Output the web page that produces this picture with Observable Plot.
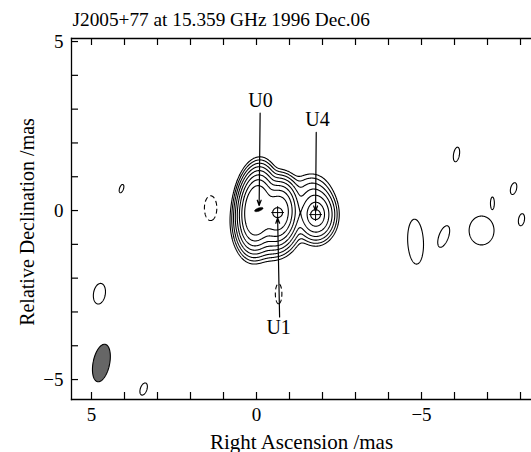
<!DOCTYPE html>
<html><head><meta charset="utf-8">
<script src="https://cdn.jsdelivr.net/npm/d3@7"></script>
<script src="https://cdn.jsdelivr.net/npm/@observablehq/plot@0.6"></script>
<style>body{margin:0;background:#fff} svg{display:block}</style>
</head><body><div id="chart"></div>
<script>
// ---- texts ----
const titleText = "J2005+77 at 15.359 GHz 1996 Dec.06";
const xLabel = "Right Ascension /mas";
const yLabel = "Relative Declination /mas";
// ---- axes ----
const xDomain = [5.606, -8.333];
const yDomain = [-5.59, 5.09];
const xTickLabels = [5, 0, -5];
const yTickLabels = [5, 0, -5];
const xTicks = [5, 4, 3, 2, 1, 0, -1, -2, -3, -4, -5, -6, -7, -8];
const yTicks = [5, 4, 3, 2, 1, 0, -1, -2, -3, -4, -5];
// ---- contour levels (fraction of peak) ----
const levels = [0.0022, 0.0044, 0.0088, 0.0176, 0.035, 0.07, 0.14, 0.28];
const negLevels = [0.0022];
// ---- brightness components: RA, Dec (mas), amplitude, sigma major/minor (mas), PA (deg) ----
const coreComponents = [
  {ra: 0.0, dec: 0.02, amp: 1.0, maj: 0.45, min: 0.22, pa: -5},
  {ra: -0.66, dec: -0.06, amp: 0.6, maj: 0.38, min: 0.24, pa: -5},
  {ra: -0.35, dec: -0.45, amp: 0.05, maj: 0.4, min: 0.4, pa: 0},
  {ra: -1.8, dec: -0.12, amp: 0.12, maj: 0.33, min: 0.25, pa: 0},
  {ra: -1.65, dec: 0.55, amp: 0.01, maj: 0.3, min: 0.3, pa: 0}
];
const noiseBlobs = [
  {ra: 4.09, dec: 0.65, amp: 0.0036, maj: 0.13, min: 0.06, pa: -20},
  {ra: 4.76, dec: -2.46, amp: 0.0036, maj: 0.31, min: 0.18, pa: -10},
  {ra: 3.42, dec: -5.28, amp: 0.0036, maj: 0.19, min: 0.10, pa: -20},
  {ra: -6.06, dec: 1.66, amp: 0.0036, maj: 0.22, min: 0.09, pa: -10},
  {ra: -7.79, dec: 0.65, amp: 0.0036, maj: 0.18, min: 0.09, pa: -15},
  {ra: -7.15, dec: 0.24, amp: 0.0036, maj: 0.15, min: 0.05, pa: 0},
  {ra: -8.03, dec: -0.27, amp: 0.0036, maj: 0.18, min: 0.09, pa: -10},
  {ra: -4.82, dec: -0.92, amp: 0.0036, maj: 0.67, min: 0.24, pa: 3},
  {ra: -5.67, dec: -0.77, amp: 0.0036, maj: 0.33, min: 0.14, pa: -20},
  {ra: -6.82, dec: -0.59, amp: 0.0036, maj: 0.43, min: 0.38, pa: 0},
  {ra: 1.39, dec: 0.07, amp: -0.0036, maj: 0.37, min: 0.19, pa: 0},
  {ra: -0.67, dec: -2.46, amp: -0.0036, maj: 0.30, min: 0.10, pa: 0}
];
// ---- restoring beam (FWHM, mas) ----
const beam = {ra: 4.70, dec: -4.51, amp: 1, maj: 1.13 / 2.3548, min: 0.50 / 2.3548, pa: -12};
// ---- model components & labels ----
const compNames = ["U0", "U1", "U4"];
const compRA = [-0.07, -0.64, -1.79];
const compDec = [0.03, -0.06, -0.12];
const labelRA = [-0.12, -0.67, -1.85];
const labelDec = [3.24, -3.46, 2.70];
const arrowRA1 = [-0.11, -0.70, -1.81];
const arrowDec1 = [2.88, -3.15, 2.31];
const arrowRA2 = [-0.08, -0.64, -1.79];
const arrowDec2 = [0.15, -0.22, -0.02];

// ---- helpers ----
function gauss(c, x, y) {
  const t = c.pa * Math.PI / 180;
  const dx = x - c.ra, dy = y - c.dec;
  const u = dx * Math.sin(t) + dy * Math.cos(t);
  const v = dx * Math.cos(t) - dy * Math.sin(t);
  return c.amp * Math.exp(-0.5 * (u * u / (c.maj * c.maj) + v * v / (c.min * c.min)));
}
const allComps = coreComponents.concat(noiseBlobs);
function brightness(x, y) {
  let s = 0;
  for (const c of allComps) s += gauss(c, x, y);
  return s;
}
const fmt = d => d < 0 ? "\u2212" + (-d) : String(d);
const comps = compNames.map((n, i) => ({n, ra: compRA[i], dec: compDec[i], lra: labelRA[i], ldec: labelDec[i],
  a1: arrowRA1[i], d1: arrowDec1[i], a2: arrowRA2[i], d2: arrowDec2[i]}));
const ellipseSymbol = {draw(ctx) {
  const a = 4.5, b = 1.6, t = -20 * Math.PI / 180;
  for (let i = 0; i <= 24; i++) {
    const p = i / 24 * 2 * Math.PI;
    const x = a * Math.cos(p) * Math.cos(t) - b * Math.sin(p) * Math.sin(t);
    const y = a * Math.cos(p) * Math.sin(t) + b * Math.sin(p) * Math.cos(t);
    i ? ctx.lineTo(x, y) : ctx.moveTo(x, y);
  }
  ctx.closePath();
}};

const W = 531, H = 452, mL = 71, mR = 0, mT = 38, mB = 53;
const fw = W - mL - mR, fh = H - mT - mB;
const serif = "'Liberation Serif', 'Times New Roman', 'DejaVu Serif', serif";
const ext = {x1: xDomain[0], x2: xDomain[1], y1: yDomain[1], y2: yDomain[0], pixelSize: 0.5};

const chart = Plot.plot({
  width: W, height: H,
  marginLeft: mL, marginRight: mR, marginTop: mT, marginBottom: mB,
  x: {domain: xDomain, axis: null},
  y: {domain: yDomain, axis: null},
  style: {fontFamily: serif, background: "white", color: "black"},
  marks: [
    Plot.contour({value: brightness, ...ext, thresholds: levels, stroke: "black", strokeWidth: 1.1, fill: "none"}),
    Plot.contour({value: (x, y) => -brightness(x, y), ...ext, thresholds: negLevels, stroke: "black", strokeWidth: 1.1, strokeDasharray: "5,3", fill: "none"}),
    Plot.contour({value: (x, y) => gauss(beam, x, y), ...ext, thresholds: [0.5], stroke: "black", strokeWidth: 1.1, fill: "#666"}),
    // component markers
    Plot.dot(comps.filter(d => d.n !== "U0"), {x: "ra", y: "dec", r: 5, stroke: "black", strokeWidth: 1.1, fill: "none"}),
    Plot.dot(comps.filter(d => d.n !== "U0"), {x: "ra", y: "dec", r: 4.2, symbol: "plus", stroke: "black", strokeWidth: 1}),
    Plot.dot(comps.filter(d => d.n === "U0"), {x: "ra", y: "dec", symbol: ellipseSymbol, fill: "black", stroke: "black", strokeWidth: 0.5}),
    // arrows & labels
    Plot.arrow(comps, {x1: "a1", y1: "d1", x2: "a2", y2: "d2", stroke: "black", strokeWidth: 1.2, headLength: 7, headAngle: 40}),
    Plot.text(comps, {x: "lra", y: "ldec", text: "n", fontSize: 20, lineAnchor: "middle"}),
    // frame
    Plot.frame({anchor: "left", strokeWidth: 1.3}),
    Plot.frame({anchor: "top", strokeWidth: 1.3}),
    Plot.frame({anchor: "bottom", strokeWidth: 1.3}),
    // inward ticks
    Plot.tickX(xTicks, {x: d => d, insetTop: fh - 7, strokeWidth: 1.2}),
    Plot.tickX(xTicks, {x: d => d, insetBottom: fh - 7, strokeWidth: 1.2}),
    Plot.tickY(yTicks, {y: d => d, insetRight: fw - 7, strokeWidth: 1.2}),
    // tick labels
    Plot.text(xTickLabels, {x: d => d, frameAnchor: "bottom", dy: 21, lineAnchor: "bottom", text: d => fmt(d), fontSize: 19}),
    Plot.text(yTickLabels, {y: d => d, frameAnchor: "left", dx: -8, textAnchor: "end", lineAnchor: "middle", text: d => fmt(d), fontSize: 19}),
    // titles
    Plot.text([titleText], {frameAnchor: "top-left", dx: 1, dy: -13, textAnchor: "start", lineAnchor: "bottom", text: d => d, fontSize: 19.3}),
    Plot.text([xLabel], {frameAnchor: "bottom", dy: 49, lineAnchor: "bottom", text: d => d, fontSize: 21}),
    Plot.text([yLabel], {frameAnchor: "left", dx: -44, dy: 3, rotate: -90, textAnchor: "middle", lineAnchor: "middle", text: d => d, fontSize: 20})
  ]
});
document.getElementById("chart").appendChild(chart);
</script>
</body></html>
